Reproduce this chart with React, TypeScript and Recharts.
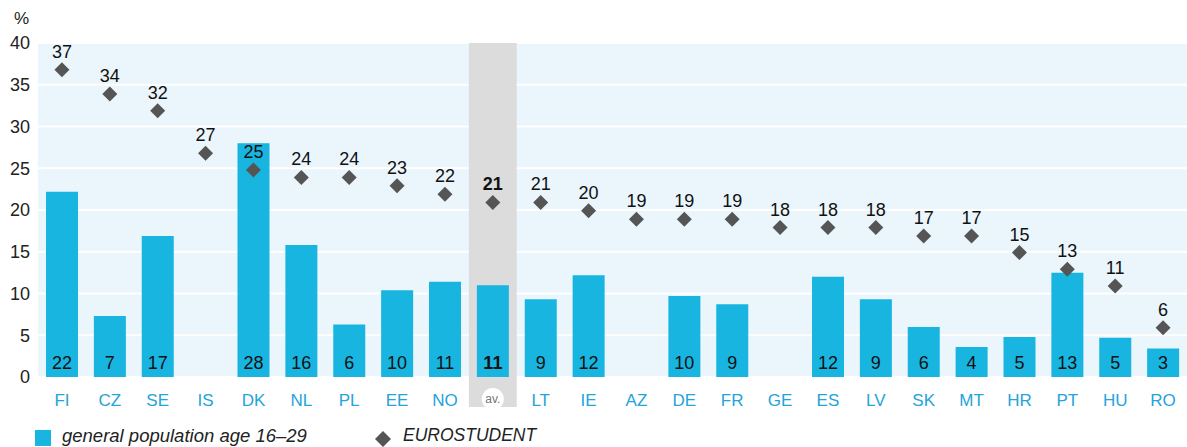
import React from 'react';
import { ComposedChart, Bar, Line, XAxis, YAxis, CartesianGrid, ReferenceArea, LabelList } from 'recharts';

const categories = ['FI','CZ','SE','IS','DK','NL','PL','EE','NO','av.','LT','IE','AZ','DE','FR','GE','ES','LV','SK','MT','HR','PT','HU','RO'];
const population = [22.2,7.3,16.9,null,28.0,15.8,6.3,10.4,11.4,11.0,9.3,12.2,null,9.7,8.7,null,12.0,9.3,6.0,3.6,4.8,12.5,4.7,3.4];
const eurostudent = [36.8,33.9,31.9,26.8,24.8,23.9,23.9,22.9,21.9,20.9,20.9,19.9,18.9,18.9,18.9,17.9,17.9,17.9,16.9,16.9,14.9,12.9,10.9,5.9];
const yTicks = [0,5,10,15,20,25,30,35,40];

const data = categories.map((c, i) => ({ cat: c, pop: population[i], euro: eurostudent[i] }));

const FONT = '"Liberation Sans", Arial, sans-serif';
const BAR = '#19b5e1';
const TICK_BLUE = '#25a3da';
const DIAMOND = '#555555';

const Diamond = (props: any) => {
  const { cx, cy } = props;
  if (cx == null || cy == null) return null;
  const r = 7.5;
  return <polygon points={`${cx},${cy - r} ${cx + r},${cy} ${cx},${cy + r} ${cx - r},${cy}`} fill={DIAMOND} />;
};

const XTick = (props: any) => {
  const { x, y, payload } = props;
  const v = payload.value;
  if (v === 'av.') {
    return (
      <g>
        <circle cx={x} cy={y + 14} r={11} fill="#ffffff" />
        <text x={x} y={y + 18} textAnchor="middle" fontSize={12} fill="#777" fontFamily={FONT}>av.</text>
      </g>
    );
  }
  return (
    <text x={x} y={y + 21} textAnchor="middle" fontSize={17} fill={TICK_BLUE} fontFamily={FONT}>{v}</text>
  );
};

const labelKey = (key: 'pop' | 'euro') => (d: any) => (d[key] == null ? '' : `${d.cat}|${d[key]}`);

const parse = (value: any) => {
  if (value == null || value === '') return null;
  const [cat, num] = String(value).split('|');
  const n = Number(num);
  if (num == null || isNaN(n)) return null;
  return { bold: cat === 'av.', n: Math.round(n) };
};

const BarLabel = (props: any) => {
  const { x, y, width, height, value } = props;
  const p = parse(value);
  if (!p) return null;
  return (
    <text x={x + width / 2} y={y + height - 8} textAnchor="middle" fontSize={18} fill="#111" fontWeight={p.bold ? 'bold' : 'normal'} fontFamily={FONT}>
      {p.n}
    </text>
  );
};

const EuroLabel = (props: any) => {
  const { x, y, value } = props;
  const p = parse(value);
  if (!p) return null;
  return (
    <text x={x} y={y - 12} textAnchor="middle" fontSize={18} fill="#111" fontWeight={p.bold ? 'bold' : 'normal'} fontFamily={FONT}>
      {p.n}
    </text>
  );
};

export default function App() {
  return (
    <div style={{ position: 'absolute', left: 0, top: 0, width: 1187, height: 447, fontFamily: FONT, background: '#fff', overflow: 'hidden' }}>
      <div style={{ position: 'absolute', left: 14, top: 9, fontSize: 17, color: '#222' }}>%</div>
      <ComposedChart width={1187} height={447} data={data} margin={{ top: 43, right: 0, left: 0, bottom: 40 }} barSize={32}>
        <CartesianGrid vertical={false} stroke="#ffffff" strokeWidth={2} fill="#eaf5fc" />
        <ReferenceArea x1="av." x2="av." y1={-3.6} y2={40} fill="#dcdcdc" fillOpacity={1} stroke="none" ifOverflow="visible" />
        <XAxis dataKey="cat" axisLine={false} tickLine={false} height={30} interval={0} tick={<XTick />} />
        <YAxis domain={[0, 40]} ticks={yTicks} axisLine={false} tickLine={false} width={38} tickSize={0} tickMargin={8} tick={{ fontSize: 18, fill: '#222', fontFamily: FONT }} />
        <Bar dataKey="pop" fill={BAR} isAnimationActive={false}>
          <LabelList dataKey={labelKey('pop')} content={<BarLabel />} />
        </Bar>
        <Line dataKey="euro" stroke="none" dot={<Diamond />} activeDot={false} isAnimationActive={false}>
          <LabelList dataKey={labelKey('euro')} content={<EuroLabel />} />
        </Line>
      </ComposedChart>
      <div style={{ position: 'absolute', left: 35, top: 430, width: 16, height: 16, background: BAR }} />
      <div style={{ position: 'absolute', left: 62, top: 425, fontSize: 18.5, fontStyle: 'italic', color: '#222', whiteSpace: 'nowrap' }}>general population age 16–29</div>
      <svg style={{ position: 'absolute', left: 374, top: 430 }} width={18} height={18}>
        <polygon points="9,1 17,9 9,17 1,9" fill={DIAMOND} />
      </svg>
      <div style={{ position: 'absolute', left: 403, top: 425, fontSize: 17.5, fontStyle: 'italic', color: '#222', whiteSpace: 'nowrap' }}>EUROSTUDENT</div>
    </div>
  );
}
